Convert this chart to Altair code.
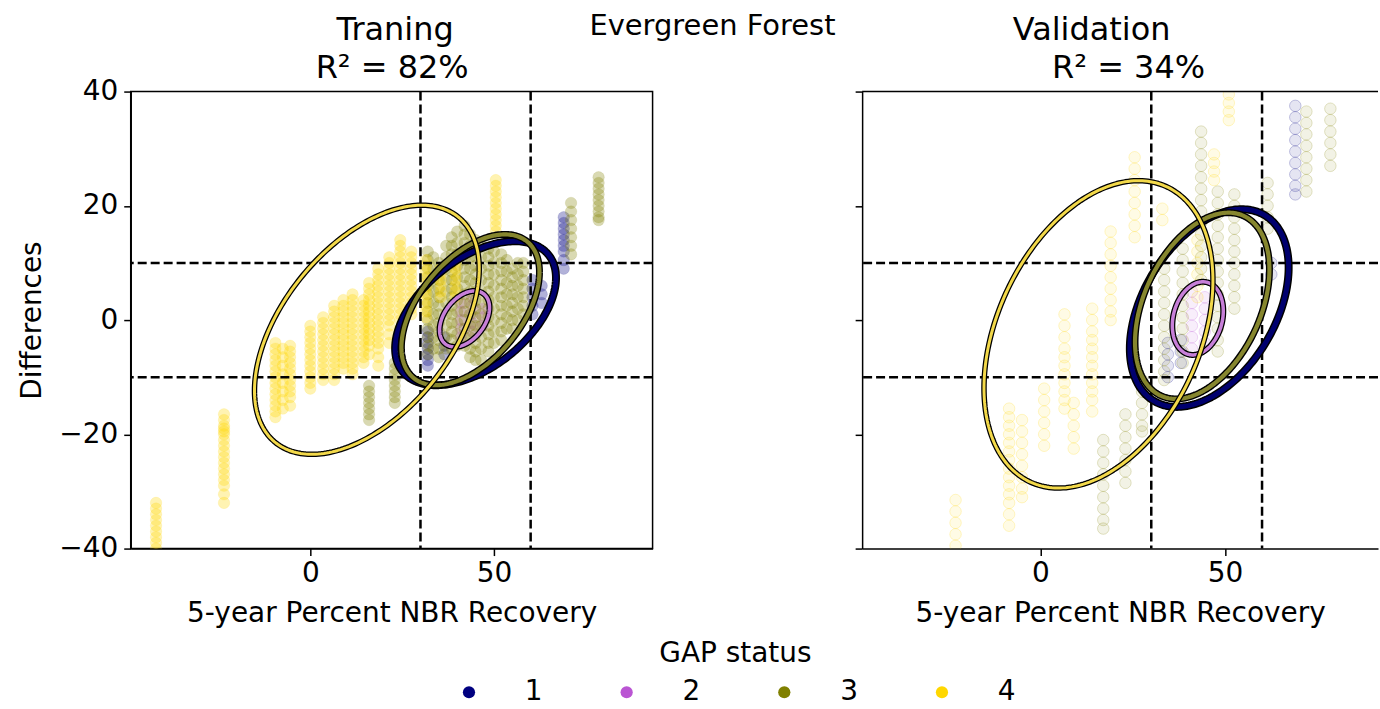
import altair as alt
import numpy as np
import pandas as pd

FONT = "DejaVu Sans"

# GAP status categories and their colours
GAP_LEVELS = ["1", "2", "3", "4"]
GAP_COLORS = ["#000080", "#ba55d3", "#808000", "#ffd700"]
# outline colours of the confidence ellipses (drawn over a black halo)
ELLIPSE_COLORS = ["#00006e", "#c77fd8", "#86862e", "#f3d94a"]
ELLIPSE_HALO = [8.0, 6.0, 7.0, 5.5]
ELLIPSE_CORE = [5.0, 3.5, 4.2, 3.0]

X_TICKS = [0, 50]
Y_TICKS = [-40, -20, 0, 20, 40]
X_CUTS = [30, 60]
Y_CUTS = [-10, 10]
Y_DOMAIN = [-40, 40]

# ---- training points: (recovery, [differences]) per GAP status ----
TRAIN_GAP1 = [
    (32.0, [-2.0, -3.0, -4.0, -5.0, -6.0, -7.0, -8.0]),
    (36.5, [-3.0, -4.5, -6.0]),
    (60.5, [7.0, 5.5, 4.0, 2.5, 1.0]),
    (63.0, [6.0, 4.5, 3.0]),
    (69.0, [18.0, 17.0, 16.0, 15.0, 14.0, 13.0, 12.0, 10.5, 9.0]),
]
TRAIN_GAP2 = [
    (41.0, [3.0, 1.5, 0.0, -1.5, -3.0]),
    (44.0, [4.0, 2.5, 1.0, -0.5, -2.0]),
    (47.0, [2.0, 0.5, -1.0]),
]
TRAIN_GAP3 = [
    (16.0, [-11.5, -12.5, -13.5, -14.5, -15.5, -16.5, -17.5]),
    (23.0, [-7.5, -8.5, -9.5, -10.5, -11.5, -12.5, -13.5, -14.5]),
    (32.0, [12.0, 10.5, 9.0, 7.5, 6.0, 4.5, 3.0, 1.5, 0.0, -1.5, -3.0, -4.5, -6.0]),
    (33.5, [11.0, 9.0, 7.0, 5.0, 3.0, 1.0, -1.0, -3.0, -5.0]),
    (35.0, [10.0, 8.5, 7.0, 5.5, 4.0, 2.5, 1.0, -0.5, -2.0, -3.5, -5.0, -6.5]),
    (37.0, [13.0, 11.0, 9.0, 7.0, 5.0, 3.0, 1.0, -1.0, -3.0, -5.0]),
    (38.5, [14.5, 13.0, 11.5, 10.0, 8.5, 7.0, 5.5, 4.0, 2.5, 1.0, -0.5, -2.0, -3.5, -5.0]),
    (40.0, [15.5, 13.5, 11.5, 9.5, 7.5, 5.5, 3.5, 1.5, -0.5, -2.5, -4.5]),
    (42.0, [16.5, 15.0, 13.5, 12.0, 10.5, 9.0, 7.5, 6.0, 4.5, 3.0, 1.5, 0.0, -1.5, -3.0, -4.5]),
    (43.5, [15.0, 13.0, 11.0, 9.0, 7.0, 5.0, 3.0, 1.0, -1.0, -3.0, -5.0, -6.5]),
    (45.0, [14.0, 12.5, 11.0, 9.5, 8.0, 6.5, 5.0, 3.5, 2.0, 0.5, -1.0, -2.5, -4.0, -5.5, -7.0]),
    (46.5, [13.0, 11.0, 9.0, 7.0, 5.0, 3.0, 1.0, -1.0, -3.0, -5.0, -7.0]),
    (48.5, [12.5, 11.0, 9.5, 8.0, 6.5, 5.0, 3.5, 2.0, 0.5, -1.0, -2.5, -4.0, -5.5]),
    (50.0, [12.0, 10.0, 8.0, 6.0, 4.0, 2.0, 0.0, -2.0, -4.0]),
    (52.0, [11.5, 10.0, 8.5, 7.0, 5.5, 4.0, 2.5, 1.0, -0.5, -2.0, -3.5]),
    (53.5, [10.5, 8.5, 6.5, 4.5, 2.5, 0.5, -1.5]),
    (55.0, [9.0, 7.5, 6.0, 4.5, 3.0, 1.5, 0.0, -1.5]),
    (56.5, [10.0, 8.0, 6.0, 4.0, 2.0, 0.0]),
    (58.0, [10.0, 8.5, 7.0, 5.5, 4.0, 2.5, 1.0]),
    (71.0, [20.5, 19.0, 17.5, 16.0, 14.5, 13.0, 11.5]),
    (78.5, [25.0, 24.0, 23.0, 22.0, 21.0, 20.0, 19.0, 18.0, 17.5]),
]
TRAIN_GAP4 = [
    (-42.0, [-32.0, -33.0, -34.0, -35.0, -36.0, -37.0, -38.0, -39.0, -40.0, -41.0]),
    (-23.5, [-16.5, -17.5, -18.5, -19.0, -19.5, -20.0, -21.0, -22.0, -23.0, -24.0,
             -25.0, -26.0, -27.0, -28.0, -29.0, -30.5, -32.0]),
    (-9.5, [-4.0, -5.0, -6.0, -7.0, -8.0, -9.0, -10.0, -11.0, -12.0, -13.0, -14.0,
            -15.0, -16.0, -17.0]),
    (-7.5, [-5.0, -6.5, -8.0, -9.5, -11.0, -12.5, -14.0, -15.5]),
    (-5.5, [-4.5, -5.5, -6.5, -7.5, -8.5, -9.5, -10.5, -11.5, -12.5, -13.5, -15.0]),
    (0.0, [-1.0, -2.0, -3.0, -4.0, -5.0, -6.0, -7.0, -8.0, -9.0, -10.0, -11.0, -12.0]),
    (3.5, [0.5, -0.5, -1.5, -2.5, -3.5, -4.5, -5.5, -6.5, -7.5, -8.5, -9.5, -10.5]),
    (6.5, [2.5, 1.5, 0.5, -0.5, -1.5, -2.5, -3.5, -4.5, -5.5, -6.5, -7.5, -8.5, -9.5, -10.5]),
    (9.0, [3.5, 2.5, 1.5, 0.5, -0.5, -1.5, -2.5, -3.5, -4.5, -5.5, -6.5, -7.5, -8.5]),
    (11.5, [4.5, 3.5, 2.5, 1.5, 0.5, -0.5, -1.5, -2.5, -3.5, -4.5, -5.5, -6.5, -7.5,
            -8.5, -9.5]),
    (14.5, [3.5, 2.5, 1.5, 0.5, -0.5, -1.5, -2.5, -3.5, -4.5, -5.5, -6.5, -7.5]),
    (16.0, [6.5, 5.5, 4.5, 3.5, 2.5, 1.5, 0.5, -0.5, -1.5, -2.5, -3.5, -4.5, -6.0]),
    (18.5, [9.0, 8.0, 7.0, 6.0, 5.0, 4.0, 3.0, 2.0, 1.0, 0.0, -1.0, -2.0, -3.0, -4.0,
            -5.0, -6.5, -8.0]),
    (21.5, [11.0, 10.0, 9.0, 8.0, 7.0, 6.0, 5.0, 4.0, 3.0, 2.0, 1.0, 0.0, -1.0, -2.5,
            -4.0]),
    (24.5, [14.0, 13.0, 12.0, 11.0, 10.0, 9.0, 8.0, 7.0, 6.0, 5.0, 4.0, 3.0, 2.0, 1.0,
            0.0, -1.5, -3.0]),
    (27.5, [12.0, 11.0, 10.0, 9.0, 8.0, 7.0, 6.0, 5.0, 4.0, 3.0, 2.0, 1.0]),
    (31.5, [10.5, 9.5, 8.5, 7.5, 6.5, 5.5, 4.5, 3.5, 2.5, 1.5, 0.5]),
    (35.5, [9.0, 8.0, 7.0, 6.0, 5.0, 4.0]),
    (39.5, [10.0, 9.0, 8.0, 7.0, 6.0, 5.0, 4.0]),
    (50.5, [24.5, 23.5, 22.5, 21.5, 20.5, 19.5, 18.5, 17.5, 16.5, 15.5]),
]

# ---- validation points ----
VALID_GAP1 = [
    (34.5, [-4.0, -6.0, -8.0, -10.0]),
    (38.0, [-3.5, -5.5, -7.5]),
    (62.5, [10.0, 8.0]),
    (69.0, [37.5, 35.5, 33.5, 31.5, 29.5, 27.5, 25.5, 23.5, 22.0]),
]
VALID_GAP2 = [
    (41.0, [5.0, 3.0, 1.0, -1.0, -3.0, -5.0]),
    (44.5, [4.0, 2.0, 0.0, -2.0, -4.0]),
]
VALID_GAP3 = [
    (17.0, [-21.0, -23.0, -25.0, -27.0, -29.0, -31.0, -33.0, -35.0, -36.5]),
    (23.0, [-16.5, -18.5, -20.5, -22.5, -24.5, -26.5, -28.5]),
    (27.5, [-10.5, -12.5, -14.5, -16.5, -18.5, -19.5]),
    (33.5, [9.0, 7.0, 5.0, 3.0, 1.0, -1.0, -3.0, -5.0, -7.0, -9.0, -10.5]),
    (38.5, [12.5, 10.5, 8.5, 6.5, 4.5, 2.5, 0.5, -1.5, -3.5, -5.5, -7.5]),
    (43.5, [33.0, 31.0, 29.0, 27.0, 25.0, 23.0, 21.0, 19.0, 17.0, 15.0, 13.0, 11.0,
            9.0, 7.0]),
    (48.0, [22.5, 20.5, 18.5, 16.5, 14.5, 12.5, 10.5, 8.5, 6.5, 4.5, 2.5, 0.5, -1.5,
            -3.5, -5.5]),
    (52.5, [22.0, 20.0, 18.0, 16.0, 14.0, 12.0, 10.0, 8.0, 6.0, 4.0, 2.0]),
    (61.5, [24.0, 22.0, 20.0, 18.0, 16.0]),
    (72.0, [36.5, 34.5, 32.5, 30.5, 28.5, 26.5, 24.5, 22.5]),
    (78.5, [37.0, 35.0, 33.0, 31.0, 29.0, 27.0]),
]
VALID_GAP4 = [
    (-23.0, [-31.5, -33.5, -35.5, -37.5, -39.5]),
    (-8.5, [-15.5, -17.0, -18.5, -20.0, -21.5, -23.0, -24.5, -26.0, -27.5, -29.0,
            -30.5, -32.0, -34.0, -36.0]),
    (-5.0, [-17.5, -19.5, -21.5, -23.5, -25.5, -27.5, -29.5, -31.0]),
    (1.0, [-12.0, -14.0, -16.0, -18.0, -20.0, -22.0]),
    (6.5, [1.0, -1.0, -3.0, -5.0, -6.5, -8.0, -9.5, -11.0, -12.5, -14.0, -15.5]),
    (9.0, [-14.5, -16.5, -18.5, -20.5, -22.5]),
    (14.0, [2.0, 0.0, -2.0, -3.5, -5.0, -6.5, -8.0, -9.5, -11.0, -12.5, -14.0, -16.0]),
    (19.0, [15.5, 13.5, 11.5, 9.5, 7.5, 5.5, 3.5, 1.5, 0.0]),
    (25.5, [28.5, 26.5, 24.5, 22.5, 20.5, 18.5, 16.5, 14.5]),
    (33.0, [19.5, 17.5]),
    (42.5, [14.0, 12.0, 10.0, 8.0, 6.0, 4.0]),
    (47.0, [29.0, 27.5, 26.0, 24.5]),
    (51.0, [39.5, 38.0, 36.5, 35.0]),
]

# ---- confidence ellipses: centre x, centre y, half-width, half-height, correlation ----
TRAIN_ELLIPSES = [
    (45.0, 1.2, 21.9, 12.6, 0.49),
    (42.0, 0.2, 6.8, 4.9, 0.40),
    (43.6, 1.8, 18.8, 13.2, 0.50),
    (15.4, -1.7, 30.6, 21.8, 0.49),
]
VALID_ELLIPSES = [
    (45.7, 2.1, 21.5, 17.3, 0.41),
    (42.6, 0.3, 6.9, 6.4, 0.20),
    (43.8, 2.5, 18.2, 16.3, 0.39),
    (15.7, -2.5, 31.0, 26.9, 0.35),
]

# panel headings: text and its horizontal centre (px from the panel's left edge)
TRAIN_HEADING = [("Traning", 265), ("R² = 82%", 262)]
VALID_HEADING = [("Validation", 230), ("R² = 34%", 267)]
SUPTITLE = "Evergreen Forest"


def points_frame(groups):
    rows = []
    for gap, stripes in zip(GAP_LEVELS, groups):
        for x, ys in stripes:
            for y in ys:
                rows.append({"gap": gap, "recovery": x, "difference": y})
    return pd.DataFrame(rows)


def ellipse_frame(cx, cy, rx, ry, corr):
    t = np.linspace(0.0, 2.0 * np.pi, 241)
    delta = np.arccos(corr)
    return pd.DataFrame({
        "step": np.arange(t.size),
        "recovery": cx + rx * np.cos(t),
        "difference": cy + ry * np.cos(t - delta),
    })


def label(text, x_px, y_px, size):
    return alt.Chart(pd.DataFrame({"label": [text]})).mark_text(
        font=FONT, fontSize=size, color="black", align="center",
        baseline="alphabetic",
    ).encode(text="label:N", x=alt.value(x_px), y=alt.value(y_px))


color_scale = alt.Scale(domain=GAP_LEVELS, range=GAP_COLORS)


def panel(groups, ellipses, heading, x_domain, width, first, fill_op, stroke_op):
    xs = alt.Scale(domain=x_domain, nice=False, zero=False)
    ys = alt.Scale(domain=Y_DOMAIN, nice=False, zero=False)
    x_axis = alt.Axis(values=X_TICKS, title="5-year Percent NBR Recovery",
                      labelPadding=4, titlePadding=12)
    if first:
        y_axis = alt.Axis(values=Y_TICKS, title="Differences", labelPadding=6,
                          titlePadding=12)
    else:
        # shared y: keep tick marks, hide the tick labels
        y_axis = alt.Axis(values=Y_TICKS, labels=False, title=None)

    legend = alt.Legend(
        title="GAP status", orient="none", direction="horizontal",
        legendX=325, legendY=550, titleAnchor="middle", titleFontSize=28,
        titleFont=FONT, titleFontWeight="normal", titleColor="black",
        labelFontSize=28, labelFont=FONT, labelColor="black",
        symbolType="circle", symbolSize=150, symbolOpacity=1,
        symbolStrokeWidth=0, labelOffset=42, columnPadding=70, titlePadding=10,
    )

    scatter = alt.Chart(points_frame(groups)).mark_circle(
        size=133, clip=True, fillOpacity=fill_op, strokeOpacity=stroke_op,
        strokeWidth=1,
    ).encode(
        x=alt.X("recovery:Q", scale=xs, axis=x_axis),
        y=alt.Y("difference:Q", scale=ys, axis=y_axis),
        color=alt.Color("gap:N", scale=color_scale, legend=legend),
        stroke=alt.Stroke("gap:N", scale=color_scale, legend=None),
    )

    dash = dict(color="black", strokeDash=[9, 4], strokeWidth=2.5)
    vcuts = alt.Chart(pd.DataFrame({"recovery": X_CUTS})).mark_rule(**dash).encode(
        x="recovery:Q")
    hcuts = alt.Chart(pd.DataFrame({"difference": Y_CUTS})).mark_rule(**dash).encode(
        y="difference:Q")

    layers = [scatter, vcuts, hcuts]
    for i, params in enumerate(ellipses):
        frame = ellipse_frame(*params)
        base = alt.Chart(frame).encode(
            x="recovery:Q", y="difference:Q", order="step:Q")
        layers.append(base.mark_line(color="black", strokeWidth=ELLIPSE_HALO[i],
                                     strokeJoin="round"))
        layers.append(base.mark_line(color=ELLIPSE_COLORS[i],
                                     strokeWidth=ELLIPSE_CORE[i],
                                     strokeJoin="round"))

    # two-line heading above the frame
    (line1, x1), (line2, x2) = heading
    layers.append(label(line1, x1, -52, 32))
    layers.append(label(line2, x2, -14, 32))

    if first:
        layers.append(label(SUPTITLE, 583, -57, 29))
        view = alt.ViewBackground(stroke="black", strokeWidth=1.5)
    else:
        # open frame on the right: draw only the top edge
        layers.append(
            alt.Chart(pd.DataFrame({"difference": [Y_DOMAIN[1]]})).mark_rule(
                color="black", strokeWidth=1.5).encode(y="difference:Q")
        )
        view = alt.ViewBackground(stroke="transparent")

    return alt.layer(*layers).properties(width=width, height=458, view=view)


left = panel([TRAIN_GAP1, TRAIN_GAP2, TRAIN_GAP3, TRAIN_GAP4], TRAIN_ELLIPSES,
             TRAIN_HEADING, [-48.9, 93.2], 523, True, 0.3, 0.12)
right = panel([VALID_GAP1, VALID_GAP2, VALID_GAP3, VALID_GAP4], VALID_ELLIPSES,
              VALID_HEADING, [-48.3, 91.4], 517, False, 0.1, 0.22)

chart = alt.hconcat(left, right, spacing=210, bounds="flush").resolve_scale(
    color="shared", stroke="shared"
).properties(
    padding={"left": 18, "top": 10, "right": 0, "bottom": 0},
).configure(font=FONT).configure_axis(
    labelFont=FONT, labelFontSize=28, labelColor="black",
    titleFont=FONT, titleFontSize=28, titleFontWeight="normal", titleColor="black",
    tickColor="black", tickSize=7, tickWidth=1.5, domainColor="black",
    domainWidth=1.5, grid=False,
).configure_view(stroke="black", strokeWidth=1.5)

chart.save("out.html", embed_options={"renderer": "svg", "actions": False})
